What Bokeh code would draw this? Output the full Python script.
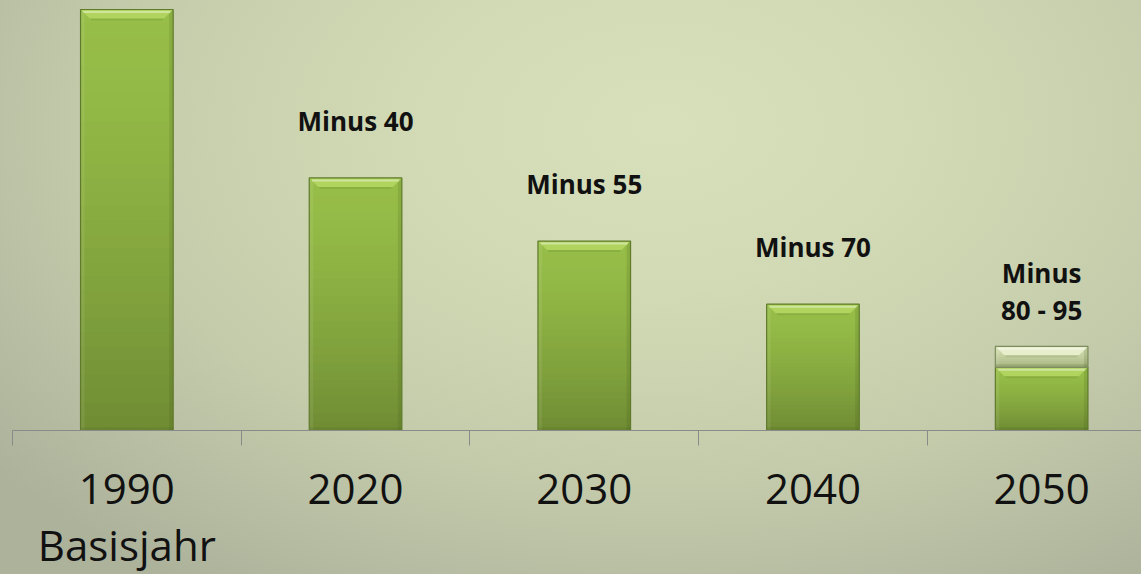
import numpy as np
from bokeh.plotting import figure
from bokeh.models import Range1d, FixedTicker
from bokeh.core.properties import value
from bokeh.embed import file_html
from bokeh.resources import INLINE

# ---- data ----
years = ["1990\nBasisjahr", "2020", "2030", "2040", "2050"]
base_values = [100, 60, 45, 30, 15]      # green bar (share of 1990 emissions, %)
range_extra = [0, 0, 0, 0, 5]            # pale add-on for the 80-95 range
labels = ["", "Minus 40", "Minus 55", "Minus 70", "Minus\n80 - 95"]

# ---- layout / style ----
PX_X = 228.7       # pixels per category
PX_Y = 4.21        # pixels per value unit
FRAME_W, FRAME_H = 1129, 422
BAR_W = 0.405
FONT = "Open Sans"

p = figure(frame_width=FRAME_W, frame_height=FRAME_H,
           x_range=Range1d(0, FRAME_W / PX_X), y_range=Range1d(0, FRAME_H / PX_Y),
           output_backend="svg", toolbar_location=None, y_axis_location=None,
           min_border_left=12, min_border_right=0, min_border_top=8, min_border_bottom=144)
p.background_fill_alpha = 0
p.border_fill_alpha = 0
p.outline_line_color = None
p.grid.visible = False
p.styles = {"background": "radial-gradient(ellipse 75% 95% at 58% 22%, #d7e0bb 0%, #d1dab4 30%, #c4cbab 65%, #adb29b 100%)"}

n = len(years)
centers = [i + 0.5 for i in range(n)]

ax = p.xaxis[0]
ax.ticker = FixedTicker(ticks=centers, minor_ticks=list(range(n + 1)))
ax.major_label_overrides = {c: y for c, y in zip(centers, years)}
ax.major_tick_line_color = None
ax.major_tick_out = 0
ax.major_tick_in = 0
ax.minor_tick_out = 15
ax.minor_tick_in = 0
ax.minor_tick_line_color = "#8a8a8a"
ax.axis_line_color = "#8a8a8a"
ax.axis_line_width = 1.2
ax.major_label_text_font = FONT
ax.major_label_text_font_size = "42px"
ax.major_label_text_color = "#111111"
ax.major_label_text_line_height = 1.0
ax.major_label_standoff = 13


def hexmix(c1, c2, t):
    a = [int(c1[i:i + 2], 16) for i in (1, 3, 5)]
    b = [int(c2[i:i + 2], 16) for i in (1, 3, 5)]
    return "#%02x%02x%02x" % tuple(round(a[k] + (b[k] - a[k]) * t) for k in range(3))


def draw_bar(cx, y0, y1, top_c, bot_c, bevel_c, edge_c, nb=30):
    x0, x1 = cx - BAR_W / 2, cx + BAR_W / 2
    hh = y1 - y0
    # vertical gradient bands (slightly overlapping to hide seams)
    bl, br, bb, bt, cols = [], [], [], [], []
    for k in range(nb):
        ya = y0 + hh * k / nb
        yb = min(y1, y0 + hh * (k + 1) / nb + 1.0 / PX_Y)
        t = 1 - (k + 0.5) / nb
        bl.append(x0); br.append(x1); bb.append(ya); bt.append(yb)
        cols.append(hexmix(top_c, bot_c, t ** 1.4))
    p.quad(left=bl, right=br, bottom=bb, top=bt, fill_color=cols, line_color=None)
    bx, by = 9 / PX_X, 9 / PX_Y
    sx = 4 / PX_X
    # side strips
    p.quad(left=[x0], right=[x0 + sx], bottom=[y0], top=[y1], fill_color="#ffffff",
           fill_alpha=0.08, line_color=None)
    p.quad(left=[x1 - sx], right=[x1], bottom=[y0], top=[y1], fill_color="#3c4f14",
           fill_alpha=0.15, line_color=None)
    p.quad(left=[x0], right=[x1], bottom=[y0], top=[y0 + 3 / PX_Y], fill_color="#3c4f14",
           fill_alpha=0.15, line_color=None)
    # top bevel
    p.patch(x=[x0, x1, x1 - bx, x0 + bx], y=[y1, y1, y1 - by, y1 - by],
            fill_color=bevel_c, line_color=None)
    p.patch(x=[x0 + bx, x1 - bx, x1 - bx - 0.01, x0 + bx + 0.01],
            y=[y1 - by, y1 - by, y1 - by - 2 / PX_Y, y1 - by - 2 / PX_Y],
            fill_color="#3c4f14", fill_alpha=0.12, line_color=None)
    p.segment(x0=[x0 + 0.012], y0=[y1 - 2.5 / PX_Y], x1=[x1 - 0.012], y1=[y1 - 2.5 / PX_Y],
              line_color="#ffffff", line_alpha=0.4, line_width=2)
    # outline
    p.quad(left=[x0], right=[x1], bottom=[y0], top=[y1], fill_color=None,
           line_color=edge_c, line_width=1.2)


for i in range(n):
    draw_bar(centers[i], 0, base_values[i], "#97be48", "#6f8c34", "#b0d45e", "#5f7a2b")
    if range_extra[i] > 0:
        draw_bar(centers[i], base_values[i], base_values[i] + range_extra[i],
                 "#d3deb0", "#a4b27e", "#e6eecb", "#7d8c5c", nb=10)

p.text(x=centers, y=base_values, text=labels, y_offset=-39,
       text_baseline="bottom", text_align="center",
       text_font=value(FONT), text_font_style="bold", text_font_size="26px",
       text_color="#111111", text_line_height=1.05)

open("out.html", "w").write(file_html(p, INLINE))
